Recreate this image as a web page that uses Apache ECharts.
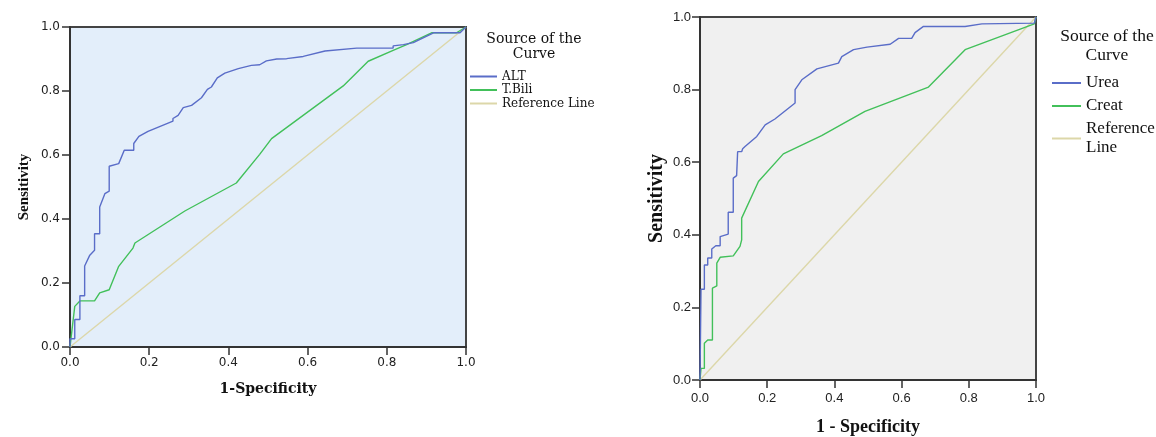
<!DOCTYPE html>
<html>
<head>
<meta charset="utf-8">
<script src="https://cdn.jsdelivr.net/npm/echarts@6/dist/echarts.min.js"></script>
<style>
  html, body { margin: 0; padding: 0; background: #fff; }
  #chart { width: 1156px; height: 437px; }
</style>
</head>
<body>
<div id="chart"></div>
<script>
// ROC curves, values
const tickLabels = ['0.0', '0.2', '0.4', '0.6', '0.8', '1.0'];

const altFpr = [0, 0, 0.012, 0.012, 0.025, 0.025, 0.037, 0.037, 0.05, 0.062, 0.062, 0.075, 0.075, 0.088, 0.099, 0.099, 0.123, 0.137, 0.161, 0.161, 0.174, 0.197, 0.26, 0.26, 0.273, 0.286, 0.307, 0.332, 0.347, 0.357, 0.372, 0.391, 0.425, 0.458, 0.479, 0.496, 0.522, 0.547, 0.589, 0.644, 0.724, 0.816, 0.816, 0.842, 0.867, 0.918, 0.985, 1];
const altTpr = [0, 0.026, 0.026, 0.086, 0.086, 0.16, 0.16, 0.253, 0.287, 0.302, 0.354, 0.354, 0.4375, 0.479, 0.487, 0.565, 0.573, 0.615, 0.615, 0.636, 0.658, 0.674, 0.706, 0.714, 0.724, 0.748, 0.755, 0.779, 0.805, 0.8125, 0.841, 0.856, 0.87, 0.88, 0.882, 0.894, 0.9, 0.901, 0.908, 0.925, 0.934, 0.934, 0.941, 0.945, 0.951, 0.982, 0.982, 1];

const tbiliFpr = [0, 0.012, 0.025, 0.062, 0.075, 0.099, 0.123, 0.159, 0.164, 0.29, 0.42, 0.479, 0.509, 0.69, 0.753, 0.816, 0.85, 0.913, 0.976, 1];
const tbiliTpr = [0, 0.127, 0.144, 0.144, 0.169, 0.179, 0.252, 0.309, 0.325, 0.425, 0.5125, 0.602, 0.651, 0.816, 0.893, 0.927, 0.945, 0.982, 0.982, 1];

const ureaFpr = [0, 0.003, 0.003, 0.013, 0.013, 0.023, 0.023, 0.035, 0.035, 0.047, 0.06, 0.06, 0.084, 0.084, 0.099, 0.099, 0.109, 0.112, 0.124, 0.127, 0.134, 0.169, 0.194, 0.223, 0.283, 0.283, 0.303, 0.348, 0.412, 0.422, 0.457, 0.497, 0.566, 0.591, 0.63, 0.64, 0.665, 0.789, 0.839, 0.995, 1];
const ureaTpr = [0, 0, 0.25, 0.25, 0.317, 0.317, 0.336, 0.336, 0.361, 0.37, 0.37, 0.395, 0.402, 0.462, 0.462, 0.556, 0.563, 0.629, 0.629, 0.637, 0.643, 0.671, 0.703, 0.719, 0.763, 0.8, 0.827, 0.857, 0.873, 0.891, 0.91, 0.917, 0.925, 0.941, 0.941, 0.957, 0.974, 0.974, 0.981, 0.983, 1];

const creatFpr = [0, 0.003, 0.003, 0.013, 0.013, 0.023, 0.037, 0.037, 0.05, 0.05, 0.06, 0.099, 0.119, 0.124, 0.124, 0.174, 0.248, 0.362, 0.491, 0.68, 0.789, 0.995, 1];
const creatTpr = [0, 0, 0.032, 0.032, 0.101, 0.11, 0.11, 0.253, 0.259, 0.322, 0.338, 0.342, 0.368, 0.386, 0.446, 0.547, 0.623, 0.673, 0.74, 0.807, 0.91, 0.981, 1];

const refFpr = [0, 1];
const refTpr = [0, 1];

const zip = (xs, ys) => xs.map((x, i) => [x, ys[i]]);

const BLUE = '#5a6dc8';
const GREEN = '#42c05a';
const BEIGE = '#dcd7a9';
const TIMES = '"Liberation Serif", serif';
const WIDE_SERIF = '"DejaVu Serif", serif';

// left panel text is wider than normal Times, so it gets the wider DejaVu faces
function axis(gridIndex, name, nameGap, nameFont, nameSize, labelFont, labelSize, margin) {
    return {
        type: 'value', gridIndex, min: 0, max: 1, interval: 0.2,
        name, nameLocation: 'middle', nameGap,
        nameTextStyle: { fontFamily: nameFont, fontWeight: 'bold', fontSize: nameSize, color: '#111' },
        axisLine: { show: true, onZero: false, lineStyle: { color: '#333', width: 2 } },
        axisTick: { show: true, length: 8, lineStyle: { color: '#333', width: 1.5 } },
        axisLabel: { fontFamily: labelFont, fontSize: labelSize, color: '#222', margin,
            formatter: v => tickLabels[Math.round(v * 5)] },
        splitLine: { show: false }
    };
}

function curve(name, data, color, xi) {
    return {
        name, type: 'line', data, xAxisIndex: xi, yAxisIndex: xi,
        showSymbol: false, symbol: 'none', animation: false,
        lineStyle: { color, width: 1.4 }, itemStyle: { color }
    };
}

const chart = echarts.init(document.getElementById('chart'));
chart.setOption({
    animation: false,
    title: [
        { text: 'Source of the\nCurve', left: 534, top: 31.5, textAlign: 'center', padding: 0,
          textStyle: { fontFamily: WIDE_SERIF, fontWeight: 'normal', fontSize: 14, color: '#111', lineHeight: 15 } },
        { text: 'Source of the\nCurve', left: 1107, top: 27, textAlign: 'center', padding: 0,
          textStyle: { fontFamily: TIMES, fontWeight: 'normal', fontSize: 17.5, color: '#111', lineHeight: 19 } }
    ],
    grid: [
        { left: 70, top: 27, width: 396, height: 320, show: true, outerBoundsMode: 'none',
          backgroundColor: '#e3eefa', borderColor: '#444', borderWidth: 2 },
        { left: 700, top: 17, width: 336, height: 363, show: true, outerBoundsMode: 'none',
          backgroundColor: '#f0f0f0', borderColor: '#444', borderWidth: 2 }
    ],
    xAxis: [
        axis(0, '1-Specificity', 35, WIDE_SERIF, 14, '"DejaVu Sans", sans-serif', 12, 10),
        axis(1, '1 - Specificity', 38, TIMES, 18, '"Liberation Sans", Arial, sans-serif', 13, 12)
    ],
    yAxis: [
        axis(0, 'Sensitivity', 38, TIMES, 15, '"DejaVu Sans", sans-serif', 12, 10),
        axis(1, 'Sensitivity', 33, TIMES, 20, '"Liberation Sans", Arial, sans-serif', 13, 9)
    ],
    legend: [
        { orient: 'vertical', left: 470, top: 70, padding: 0, itemWidth: 27, itemHeight: 2, itemGap: 0.5,
          icon: 'rect', data: ['ALT', 'T.Bili', 'Reference Line'],
          textStyle: { fontFamily: WIDE_SERIF, fontSize: 12, color: '#111', lineHeight: 13 } },
        { orient: 'vertical', left: 1052, top: 73.5, padding: 0, itemWidth: 29, itemHeight: 2, itemGap: 4,
          icon: 'rect', data: ['Urea', 'Creat', 'Reference Line '],
          formatter: n => n === 'Reference Line ' ? 'Reference\nLine' : n,
          textStyle: { fontFamily: TIMES, fontSize: 17, color: '#111', lineHeight: 19 } }
    ],
    series: [
        curve('Reference Line', zip(refFpr, refTpr), BEIGE, 0),
        curve('T.Bili', zip(tbiliFpr, tbiliTpr), GREEN, 0),
        curve('ALT', zip(altFpr, altTpr), BLUE, 0),
        curve('Reference Line ', zip(refFpr, refTpr), BEIGE, 1),
        curve('Creat', zip(creatFpr, creatTpr), GREEN, 1),
        curve('Urea', zip(ureaFpr, ureaTpr), BLUE, 1)
    ]
});
</script>
</body>
</html>
